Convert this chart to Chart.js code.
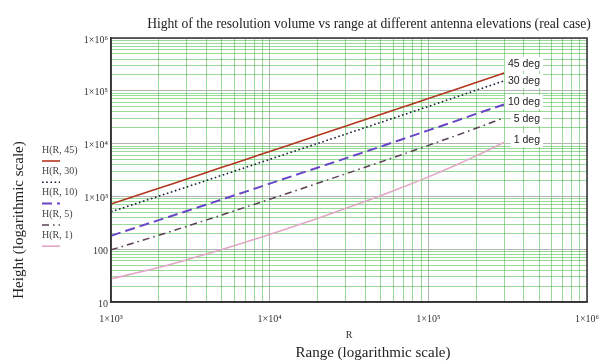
<!DOCTYPE html>
<html>
<head>
<meta charset="utf-8">
<script src="https://cdn.jsdelivr.net/npm/chart.js@4.4.1/dist/chart.umd.min.js"></script>
<style>
  html, body { margin: 0; padding: 0; background: #fff; }
  #wrap { width: 602px; height: 362px; position: relative; }
</style>
</head>
<body>
<div id="wrap"><canvas id="heightChart"></canvas></div>
<script>
// range R (m) and resolution volume height H(R, elevation)
const ranges = [1000, 2000, 3000, 5000, 7000, 10000, 20000, 30000, 50000, 70000, 100000, 150000, 200000, 300000];
const h45 = [717, 1420, 2130, 3550, 4960, 7090, 14200, 21300, 35500, 49800, 71300, 107400, 143800, 217400];
const h30 = [510, 1010, 1510, 2510, 3510, 5020, 10030, 15060, 25160, 35300, 50600, 76300, 102400, 154000];
const h10 = [180, 355, 528, 875, 1220, 1745, 3490, 5240, 8780, 12350, 17800, 27000, 36500, 55000];
const h5 = [97, 184, 271, 445, 620, 884, 1770, 2665, 4490, 6360, 9250, 14250, 19500, 30800];
const h1 = [27.5, 45, 63, 99, 135, 190, 383, 587, 1030, 1520, 2344, 3950, 5850, 10500];

const seriesNames = ['H(R, 45)', 'H(R, 30)', 'H(R, 10)', 'H(R, 5)', 'H(R, 1)'];
const seriesTags = ['45 deg', '30 deg', '10 deg', '5 deg', '1 deg'];

// axis extents and grid lines (1..9 x 10^k)
const xMin = 1e3, xMax = 1e6;
const yMin = 10, yMax = 1e6;
const xGrid = [], yGrid = [];
for (let d = xMin; d < xMax; d *= 10) for (let m = 1; m < 10; m++) xGrid.push(m * d);
xGrid.push(xMax);
for (let d = yMin; d < yMax; d *= 10) for (let m = 1; m < 10; m++) yGrid.push(m * d);
yGrid.push(yMax);

const sup = { '1': '¹', '2': '²', '3': '³', '4': '⁴', '5': '⁵', '6': '⁶' };
const isDecade = v => Math.abs(Math.log10(v) - Math.round(Math.log10(v))) < 1e-9;
const fmtTick = v => {
  if (!isDecade(v)) return '';
  if (v < 1000) return String(v);
  return '1×10' + sup[String(Math.round(Math.log10(v)))];
};

const styles = [
  { color: '#b3361f', width: 1.6, dash: [] },
  { color: '#1c1c3c', width: 1.6, dash: [1.6, 2.6] },
  { color: '#6a45c8', width: 2, dash: [10, 5] },
  { color: '#5a3f55', width: 1.5, dash: [7, 4, 1.6, 4] },
  { color: '#e2a6c6', width: 1.6, dash: [] }
];
const allSeries = [h45, h30, h10, h5, h1];

const datasets = allSeries.map((vals, i) => ({
  label: seriesNames[i],
  data: ranges.map((r, j) => ({ x: r, y: vals[j] })),
  borderColor: styles[i].color,
  borderWidth: styles[i].width,
  borderDash: styles[i].dash,
  pointRadius: 0,
  fill: false,
  cubicInterpolationMode: 'monotone'
}));

const minorGrid = 'rgba(70, 185, 70, 0.55)';
const majorGrid = '#b4b4b4';

const extras = {
  id: 'extras',
  afterDraw(chart) {
    const { ctx, chartArea: a } = chart;
    ctx.save();
    // frame
    ctx.strokeStyle = '#333';
    ctx.lineWidth = 1.5;
    ctx.strokeRect(a.left, a.top, a.right - a.left, a.bottom - a.top);

    // title
    ctx.fillStyle = '#222';
    ctx.font = '13.6px "Liberation Serif"';
    ctx.textAlign = 'center';
    ctx.textBaseline = 'middle';
    ctx.fillText('Hight of the resolution volume vs range at different antenna elevations (real case)', 369, 24);

    // axis titles
    ctx.font = '10px "Liberation Serif"';
    ctx.fillStyle = '#333';
    ctx.fillText('R', 349, 335);
    ctx.font = '15px "Liberation Serif"';
    ctx.fillStyle = '#222';
    ctx.fillText('Range (logarithmic scale)', 373, 353);
    ctx.save();
    ctx.translate(19, 220);
    ctx.rotate(-Math.PI / 2);
    ctx.fillText('Height (logarithmic scale)', 0, 0);
    ctx.restore();

    // trace legend on the left
    ctx.textAlign = 'left';
    ctx.font = '10px "Liberation Serif"';
    seriesNames.forEach((name, i) => {
      const y = 150 + i * 21.3;
      ctx.fillStyle = '#444';
      ctx.fillText(name, 42, y);
      ctx.beginPath();
      ctx.strokeStyle = styles[i].color;
      ctx.lineWidth = styles[i].width;
      ctx.setLineDash(styles[i].dash);
      ctx.moveTo(42, y + 11);
      ctx.lineTo(60, y + 11);
      ctx.stroke();
    });
    ctx.setLineDash([]);

    // elevation tags
    const tagY = [64, 81, 102, 119, 140];
    ctx.font = '10.5px "Liberation Sans"';
    ctx.textAlign = 'right';
    seriesTags.forEach((t, i) => {
      const w = ctx.measureText(t).width;
      ctx.fillStyle = '#fff';
      ctx.fillRect(540 - w - 3, tagY[i] - 7, w + 6, 14);
      ctx.fillStyle = '#222';
      ctx.fillText(t, 540, tagY[i]);
    });
    ctx.restore();
  }
};

new Chart(document.getElementById('heightChart'), {
  type: 'line',
  data: { datasets },
  options: {
    responsive: true,
    maintainAspectRatio: false,
    animation: false,
    events: [],
    layout: { padding: { left: 0, right: 15, top: 38, bottom: 0 } },
    plugins: { legend: { display: false }, tooltip: { enabled: false } },
    scales: {
      x: {
        type: 'logarithmic',
        min: xMin,
        max: xMax,
        afterBuildTicks: s => { s.ticks = xGrid.map(v => ({ value: v, major: isDecade(v) })); },
        afterFit: s => { s.height = 60; s.paddingLeft = 0; s.paddingRight = 0; },
        grid: {
          color: c => (c.tick && isDecade(c.tick.value) ? majorGrid : minorGrid),
          lineWidth: 1,
          drawTicks: false
        },
        border: { display: true, color: '#333', width: 1.5 },
        ticks: {
          autoSkip: false,
          maxRotation: 0,
          padding: 11,
          color: '#333',
          font: { family: 'Liberation Serif', size: 10 },
          callback: v => fmtTick(v)
        }
      },
      y: {
        type: 'logarithmic',
        min: yMin,
        max: yMax,
        afterBuildTicks: s => { s.ticks = yGrid.map(v => ({ value: v, major: isDecade(v) })); },
        afterFit: s => { s.width = 111; s.paddingTop = 0; s.paddingBottom = 0; },
        grid: {
          color: c => (c.tick && isDecade(c.tick.value) ? majorGrid : minorGrid),
          lineWidth: 1,
          drawTicks: false
        },
        border: { display: true, color: '#333', width: 1.5 },
        ticks: {
          autoSkip: false,
          padding: 3,
          labelOffset: 2,
          color: '#333',
          font: { family: 'Liberation Serif', size: 10 },
          callback: v => fmtTick(v)
        }
      }
    }
  },
  plugins: [extras]
});
</script>
</body>
</html>
